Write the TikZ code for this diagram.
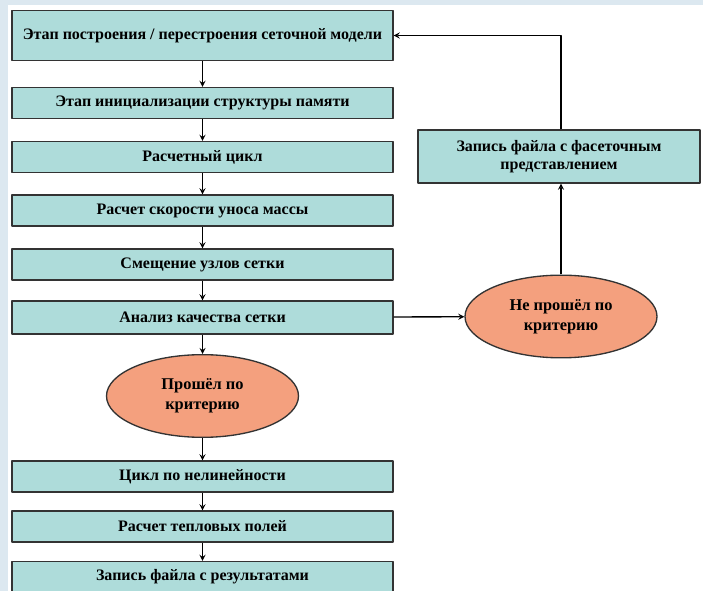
\documentclass[tikz,border=0pt]{standalone}
\usepackage{fontspec}
\setmainfont{Liberation Serif}
\usetikzlibrary{shapes.geometric}
\definecolor{stagefill}{HTML}{AEDCDA}
\definecolor{ovalfill}{HTML}{F4A07E}
\definecolor{framebg}{HTML}{DCE8F0}
\tikzset{
	stage/.style={draw=black!80, fill=stagefill, minimum width=285.75pt, minimum height=23.25pt, inner sep=0pt, align=center, font=\bfseries\fontsize{12}{14}\selectfont},
	verdict/.style={ellipse, draw=black!80, fill=ovalfill, minimum width=144pt, minimum height=62pt, inner sep=0pt, align=center, font=\bfseries\fontsize{12.3}{15}\selectfont}
}
\begin{document}
\begin{tikzpicture}[x=0.75pt,y=-0.75pt,line join=round,>=stealth,line width=1pt]
	\fill[framebg] (0,0) rectangle (703,591);
	\fill[white] (8,5) rectangle (703,591);
	\useasboundingbox (0,0) rectangle (703,591);
	% main column
	\node[stage, minimum height=37.5pt] (mesh) at (202.5,35.5) {Этап построения / перестроения сеточной модели};
	\node[stage] (memory) at (202.5,103) {Этап инициализации структуры памяти};
	\node[stage] (cycle) at (202.5,157) {Расчетный цикл};
	\node[stage] (ablation) at (202.5,210.5) {Расчет скорости уноса массы};
	\node[stage] (shift) at (202.5,264.5) {Смещение узлов сетки};
	\node[stage, minimum height=24.75pt] (quality) at (202.5,317.5) {Анализ качества сетки};
	\node[verdict] (passed) at (202.5,396) {Прошёл по\\критерию};
	\node[stage] (nonlin) at (202.5,476.5) {Цикл по нелинейности};
	\node[stage] (thermal) at (202.5,526.5) {Расчет тепловых полей};
	\node[stage] (result) at (202.5,577) {Запись файла с результатами};
	% right branch
	\node[verdict] (failed) at (561,316.5) {Не прошёл по\\критерию};
	\node[stage, minimum width=211.5pt, minimum height=39.75pt] (facet) at (559,156.5) {Запись файла с фасеточным\\представлением};
	\foreach \a/\b in {mesh/memory,memory/cycle,cycle/ablation,ablation/shift,shift/quality,quality/passed,passed/nonlin,nonlin/thermal,thermal/result}
		\draw[->] (\a) -- (\b);
	\draw[->] (quality) -- (failed);
	\draw[->] (failed) -- (failed |- facet.south);
	\draw[->] (facet.north -| failed) |- (mesh);
\end{tikzpicture}
\end{document}
